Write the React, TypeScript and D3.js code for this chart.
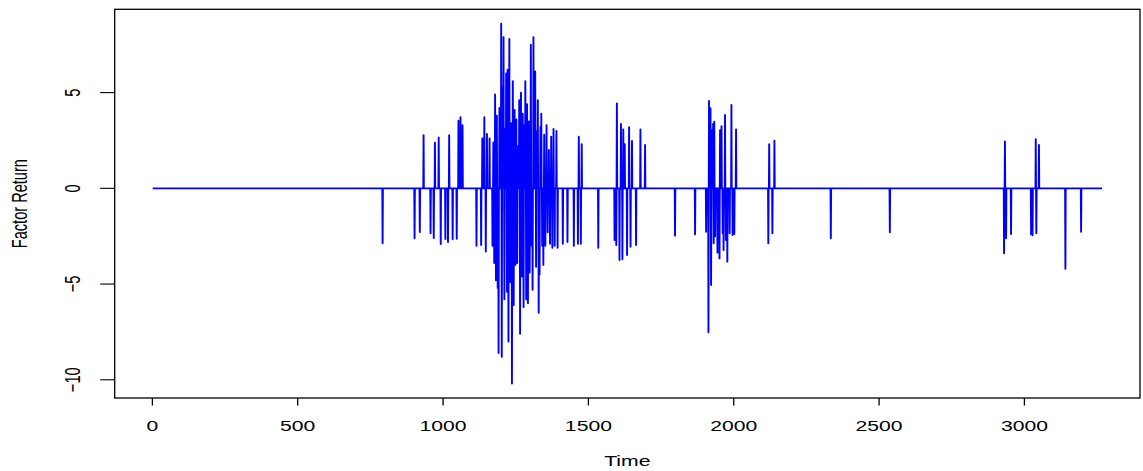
import React from "react";
import * as d3 from "d3";

// Number of observations in the series
const N = 3267;

// Non-zero factor returns: time index and value
const spikeTimes: number[] = [
  792, 902, 920, 933, 957, 968, 972, 985, 992, 1008, 1017, 1021, 1033, 1047, 1053, 1060, 1067,
  1115, 1131, 1135, 1142, 1147, 1151, 1160,
  1170, 1173, 1176, 1179, 1182, 1185, 1188, 1191, 1194, 1197, 1200, 1202, 1205, 1208, 1211,
  1214, 1217, 1220, 1222, 1225, 1228, 1231, 1234, 1237, 1240, 1243, 1246, 1249, 1252, 1255,
  1258, 1262, 1265, 1268, 1271, 1274, 1277, 1280, 1283, 1286, 1289, 1292, 1295, 1298, 1302,
  1305, 1308, 1311, 1314, 1317, 1320, 1324, 1326, 1329, 1332, 1335, 1338, 1341, 1345, 1348,
  1352, 1356, 1360, 1364, 1368, 1372, 1376, 1380, 1384, 1390, 1394,
  1412, 1428, 1450, 1464, 1467, 1474, 1477, 1534, 1590, 1596, 1598, 1607, 1612, 1617, 1620,
  1625, 1633, 1640, 1645, 1650, 1664, 1679, 1695, 1798, 1867,
  1905, 1913, 1915, 1920, 1922, 1924, 1929, 1931, 1933, 1936, 1944, 1951, 1953, 1958, 1962,
  1965, 1970, 1973, 1978, 1986, 1992, 1996, 2002, 2008,
  2119, 2122, 2133, 2140, 2334, 2537, 2930, 2933, 2937, 2954, 3023, 3028, 3039, 3041, 3050,
  3141, 3195,
];

const spikeValues: number[] = [
  -2.87, -2.61, -2.28, 2.78, -2.35, -2.6, 2.38, 2.66, -2.91, -2.65, -2.8, 2.77, -2.66, -2.63, 3.53, 3.71, 3.3,
  -3.0, -2.96, 2.61, 3.71, -3.3, 2.84, 2.61,
  -3.0, 2.4, -3.9, 4.9, -4.8, 3.8, -5.2, -8.6, 4.2, 3.6, 8.6, -8.8, 5.3, 7.9, -5.8,
  3.1, 6.0, -5.4, 6.2, -8.0, 7.8, -4.9, 3.4, -10.2, 5.6, -6.1, 4.1, -4.0, 3.6, -3.9,
  2.2, 4.6, -7.6, 5.0, -4.6, 3.9, -6.2, 3.3, 5.6, -5.8, 4.4, -6.0, 3.5, -4.4, 7.5,
  -3.0, -5.3, 7.9, 4.3, 6.1, -4.1, 3.0, 4.6, -6.5, -4.5, 3.2, 3.9, -3.0, -4.0, 2.8,
  -3.0, 3.3, -2.3, 2.0, -2.9, 2.7, -3.1, 3.1, -3.0, 3.0, -3.1,
  -2.9, -2.8, -3.0, -2.9, 2.7, -2.9, 2.3, -3.1, -2.7, -2.96, 4.44, -3.74, 3.36, -3.71, 3.08,
  2.31, -3.48, 3.19, -3.05, 2.47, -2.96, 3.08, 2.26, -2.47, -2.4,
  -2.27, -7.52, 4.56, 4.18, -5.05, 3.04, 3.36, -2.87, 3.48, -2.5, -3.36, -3.66, 3.04, 3.25, -2.35,
  -3.22, 3.83, -2.7, -3.83, -2.35, 4.35, -2.44, -2.39, 3.08,
  -2.87, 2.3, -2.35, 2.49, -2.61, -2.3, -3.39, 2.45, -2.61, -2.39, -2.4, -2.45, 2.57, -2.35, 2.26,
  -4.2, -2.27,
];

const xTicks = [0, 500, 1000, 1500, 2000, 2500, 3000];
const yTicks = [-10, -5, 0, 5];

const W = 1143;
const H = 471;
const LEFT = 114.7;
const RIGHT = 1140;
const TOP = 9.3;
const BOTTOM = 398;
const FONT = "'Liberation Sans', Arial, Helvetica, sans-serif";
const FS = 14.6;
const SX = 1.45;

export default function App() {
  const spikeMap = new Map<number, number>();
  spikeTimes.forEach((t, i) => spikeMap.set(t, spikeValues[i]));
  const series: [number, number][] = [];
  for (let t = 1; t <= N; t++) series.push([t, spikeMap.get(t) ?? 0]);

  const xPad = 0.04 * (N - 1);
  const x = d3.scaleLinear().domain([1 - xPad, N + xPad]).range([LEFT, RIGHT]);
  const [ymin, ymax] = d3.extent(series, (d) => d[1]) as [number, number];
  const yPad = 0.04 * (ymax - ymin);
  const y = d3.scaleLinear().domain([ymin - yPad, ymax + yPad]).range([BOTTOM, TOP]);

  const line = d3
    .line<[number, number]>()
    .x((d) => x(d[0]))
    .y((d) => y(d[1]));

  const midX = (LEFT + RIGHT) / 2;
  const midY = (TOP + BOTTOM) / 2;

  return (
    <svg
      width={W}
      height={H}
      style={{ position: "absolute", left: 0, top: 0, background: "#fff" }}
      fontFamily={FONT}
      fontSize={FS}
    >
      <rect x={0} y={0} width={W} height={H} fill="#fff" />
      <path d={line(series) ?? ""} fill="none" stroke="#0000ff" strokeWidth={1.9} strokeLinejoin="round" />
      <rect x={LEFT} y={TOP} width={RIGHT - LEFT} height={BOTTOM - TOP} fill="none" stroke="#000" strokeWidth={1.3} />
      {xTicks.map((t) => (
        <g key={"x" + t}>
          <line x1={x(t)} x2={x(t)} y1={BOTTOM} y2={BOTTOM + 7.5} stroke="#000" strokeWidth={1.3} />
          <text transform={`translate(${x(t)},431) scale(${SX},1)`} textAnchor="middle" fill="#000">
            {t}
          </text>
        </g>
      ))}
      {yTicks.map((t) => (
        <g key={"y" + t}>
          <line x1={LEFT - 14.5} x2={LEFT} y1={y(t)} y2={y(t)} stroke="#000" strokeWidth={1.1} />
          <text
            transform={`translate(80,${y(t)}) scale(${SX},1) rotate(-90)`}
            textAnchor="middle"
            fill="#000"
          >
            {t < 0 ? "\u2212" + Math.abs(t) : t}
          </text>
        </g>
      ))}
      <text transform={`translate(${midX},466) scale(${SX},1)`} textAnchor="middle" fill="#000">
        Time
      </text>
      <text transform={`translate(27,${midY}) scale(${SX},1) rotate(-90)`} textAnchor="middle" fill="#000">
        Factor Return
      </text>
    </svg>
  );
}
